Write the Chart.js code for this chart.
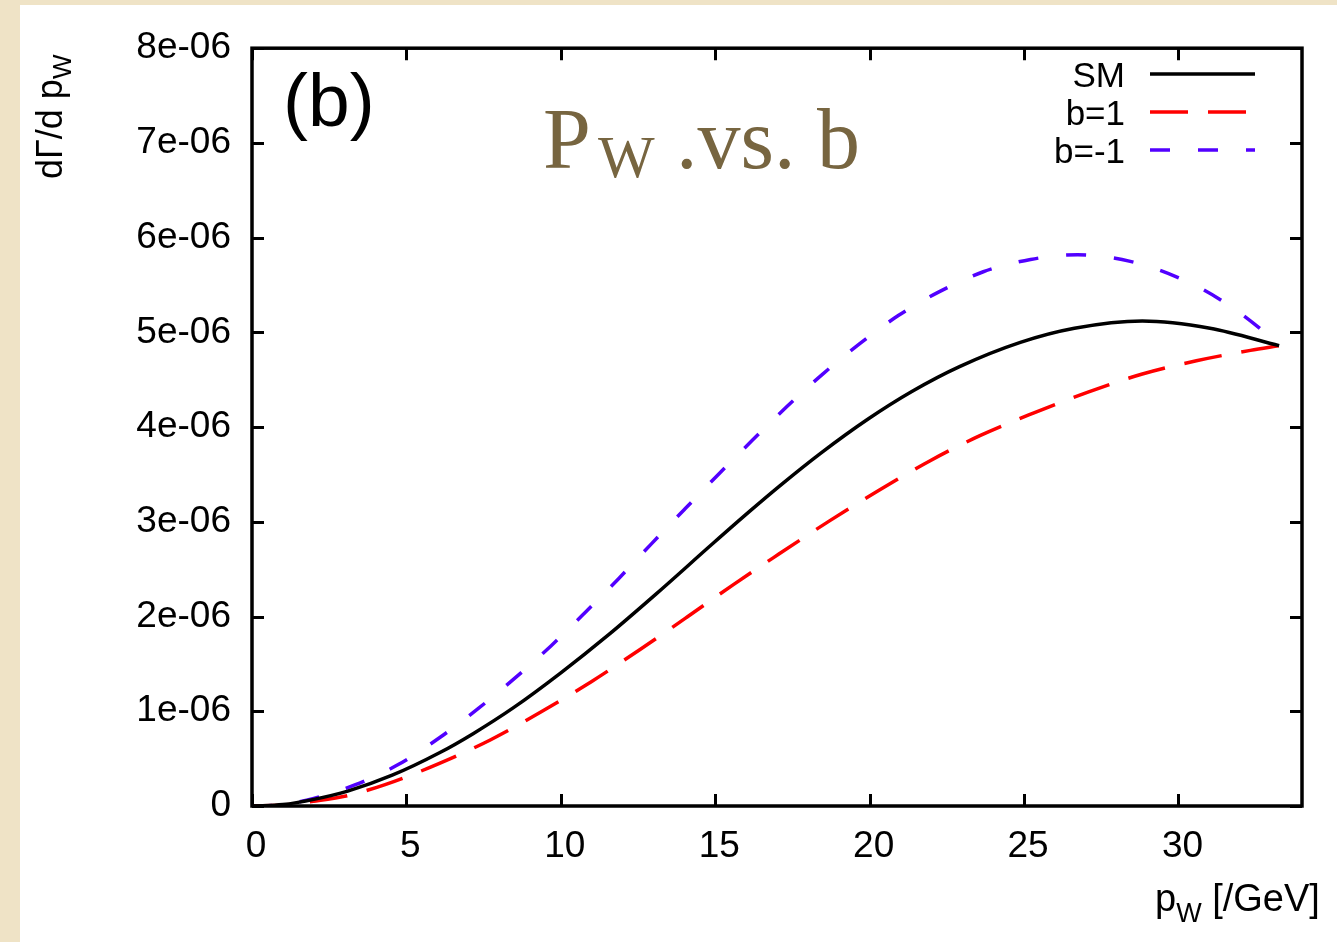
<!DOCTYPE html>
<html>
<head>
<meta charset="utf-8">
<script src="https://cdn.jsdelivr.net/npm/chart.js@4.4.1/dist/chart.umd.min.js"></script>
<style>
  html, body { margin: 0; padding: 0; }
  body { width: 1337px; height: 942px; background: #efe3c6; position: relative; overflow: hidden; }
  #panel { position: absolute; left: 20px; top: 5px; width: 1317px; height: 937px; background: #ffffff; }
  canvas { display: block; }
</style>
</head>
<body>
<div id="panel"><canvas id="c" width="1317" height="937"></canvas></div>
<script>
// p_W in GeV
const smX   = [0, 1, 2, 3.1, 4.54, 6.07, 7.16, 8.48, 10.0, 11.55, 13.08, 14.94, 16.13, 17.1, 18.42, 19.95, 21.38, 22.91, 24.88, 26.63, 28.83, 31.02, 33.26];
// dΓ/dp_W for the Standard Model
const smY   = [0, 0.015e-6, 0.07e-6, 0.157e-6, 0.325e-6, 0.562e-6, 0.764e-6, 1.041e-6, 1.406e-6, 1.809e-6, 2.237e-6, 2.776e-6, 3.115e-6, 3.382e-6, 3.725e-6, 4.085e-6, 4.378e-6, 4.638e-6, 4.894e-6, 5.043e-6, 5.12e-6, 5.043e-6, 4.86e-6];

const bPlusX  = [0, 1, 2, 3.1, 4.31, 6.07, 7.73, 9.38, 11.0, 12.53, 14.09, 15.6, 16.9, 18.7, 20.29, 21.93, 23.57, 25.32, 27.07, 28.83, 30.58, 32.33, 33.26];
const bPlusY  = [0, 0.01e-6, 0.05e-6, 0.11e-6, 0.226e-6, 0.45e-6, 0.70e-6, 0.997e-6, 1.315e-6, 1.645e-6, 1.995e-6, 2.34e-6, 2.625e-6, 3.01e-6, 3.33e-6, 3.64e-6, 3.91e-6, 4.15e-6, 4.37e-6, 4.56e-6, 4.70e-6, 4.81e-6, 4.86e-6];

const bMinusX = [0, 1, 2, 3.33, 4.75, 6.07, 7.33, 8.53, 9.68, 10.78, 11.87, 12.94, 14.03, 15.1, 16.2, 17.33, 18.48, 19.68, 20.94, 22.26, 23.68, 25.21, 26.74, 28.44, 30.09, 31.48, 32.79, 33.26];
const bMinusY = [0, 0.015e-6, 0.08e-6, 0.222e-6, 0.44e-6, 0.72e-6, 1.03e-6, 1.355e-6, 1.69e-6, 2.04e-6, 2.40e-6, 2.77e-6, 3.14e-6, 3.50e-6, 3.86e-6, 4.22e-6, 4.56e-6, 4.88e-6, 5.18e-6, 5.43e-6, 5.64e-6, 5.77e-6, 5.82e-6, 5.75e-6, 5.565e-6, 5.32e-6, 5.00e-6, 4.86e-6];

const seriesNames = ['SM', 'b=1', 'b=-1'];
const xTickValues = [0, 5, 10, 15, 20, 25, 30];
const yTickLabels = ['0', '1e-06', '2e-06', '3e-06', '4e-06', '5e-06', '6e-06', '7e-06', '8e-06'];

const SANS = "'Liberation Sans', Arial, Helvetica, sans-serif";
const SERIF = "'Liberation Serif', 'Times New Roman', serif";

const toPoints = (xs, ys) => xs.map((x, i) => ({ x: x, y: ys[i] }));

const styles = [
  { color: '#000000', dash: [] },
  { color: '#ff0000', dash: [38, 20] },
  { color: '#5200ff', dash: [20, 28] }
];

// Frame with inward ticks on all four sides, plus annotations and key
const decorations = {
  id: 'decorations',
  afterDatasetsDraw(chart) {
    const { ctx, chartArea: a } = chart;
    const xs = chart.scales.x, ys = chart.scales.y;
    const tl = 12;
    ctx.save();
    ctx.strokeStyle = '#000';
    ctx.lineWidth = 3;
    ctx.setLineDash([]);
    ctx.beginPath();
    xs.ticks.forEach(t => {
      const px = Math.round(xs.getPixelForValue(t.value)) + 0.5;
      ctx.moveTo(px, a.bottom); ctx.lineTo(px, a.bottom - tl);
      ctx.moveTo(px, a.top); ctx.lineTo(px, a.top + tl);
    });
    ys.ticks.forEach(t => {
      const py = Math.round(ys.getPixelForValue(t.value)) + 0.5;
      ctx.moveTo(a.left, py); ctx.lineTo(a.left + tl, py);
      ctx.moveTo(a.right, py); ctx.lineTo(a.right - tl, py);
    });
    ctx.stroke();
    ctx.lineWidth = 3.5;
    ctx.strokeRect(a.left, a.top, a.right - a.left, a.bottom - a.top);
    ctx.restore();
  },
  afterDraw(chart) {
    const { ctx } = chart;
    ctx.save();
    ctx.fillStyle = '#000';
    ctx.textBaseline = 'alphabetic';
    ctx.textAlign = 'left';

    // panel tag
    ctx.font = '75px ' + SANS;
    ctx.fillText('(b)', 263, 121);

    // heading
    ctx.fillStyle = '#776540';
    ctx.font = '86px ' + SERIF;
    ctx.fillText('P', 523, 163);
    ctx.font = '60px ' + SERIF;
    ctx.fillText('W', 578, 172);
    ctx.font = '86px ' + SERIF;
    ctx.fillText('.vs. b', 656, 163);

    // key
    ctx.fillStyle = '#000';
    ctx.font = '35px ' + SANS;
    ctx.textAlign = 'right';
    const keyBase = [82, 120, 158];
    keyBase.forEach((by, i) => {
      ctx.fillText(seriesNames[i], 1105, by);
      ctx.beginPath();
      ctx.strokeStyle = styles[i].color;
      ctx.lineWidth = 3.5;
      ctx.setLineDash(styles[i].dash);
      ctx.moveTo(1130, by - 13);
      ctx.lineTo(1235, by - 13);
      ctx.stroke();
    });
    ctx.setLineDash([]);
    ctx.textAlign = 'left';

    // y-axis title
    ctx.save();
    ctx.translate(42, 174);
    ctx.rotate(-Math.PI / 2);
    ctx.font = '36px ' + SANS;
    const w = ctx.measureText('d\u0393/d p').width;
    ctx.fillText('d\u0393/d p', 0, 0);
    ctx.font = '26px ' + SANS;
    ctx.fillText('W', w, 9);
    ctx.restore();

    // x-axis title
    ctx.font = '38px ' + SANS;
    let x0 = 1135;
    ctx.fillText('p', x0, 906);
    x0 += ctx.measureText('p').width;
    ctx.font = '27px ' + SANS;
    ctx.fillText('W', x0, 917);
    x0 += ctx.measureText('W').width;
    ctx.font = '38px ' + SANS;
    ctx.fillText(' [/GeV]', x0, 906);
    ctx.restore();
  }
};

const ds = [toPoints(smX, smY), toPoints(bPlusX, bPlusY), toPoints(bMinusX, bMinusY)].map((pts, i) => ({
  label: seriesNames[i],
  data: pts,
  borderColor: styles[i].color,
  borderDash: styles[i].dash,
  borderWidth: 3.5,
  pointRadius: 0,
  fill: false,
  cubicInterpolationMode: 'monotone'
}));

new Chart(document.getElementById('c'), {
  type: 'line',
  data: { datasets: ds },
  options: {
    responsive: false,
    devicePixelRatio: 1,
    animation: false,
    layout: { padding: { top: 38, right: 35, left: 0, bottom: 0 } },
    plugins: { legend: { display: false }, tooltip: { enabled: false } },
    scales: {
      x: {
        type: 'linear',
        min: 0, max: 34,
        grid: { display: false, drawTicks: false },
        border: { display: false },
        afterBuildTicks(scale) { scale.ticks = xTickValues.map(v => ({ value: v })); },
        ticks: {
          padding: 19,
          labelOffset: 4,
          maxRotation: 0,
          color: '#000',
          font: { family: SANS, size: 37 },
          callback: v => String(v)
        },
        afterFit(scale) { scale.height = 136; }
      },
      y: {
        type: 'linear',
        min: 0, max: 8e-6,
        grid: { display: false, drawTicks: false },
        border: { display: false },
        afterBuildTicks(scale) { scale.ticks = yTickLabels.map((s, i) => ({ value: i * 1e-6 })); },
        ticks: {
          padding: 21,
          color: '#000',
          font: { family: SANS, size: 37 },
          callback: (v, i) => yTickLabels[i]
        },
        afterFit(scale) { scale.width = 232; }
      }
    }
  },
  plugins: [decorations]
});
</script>
</body>
</html>
